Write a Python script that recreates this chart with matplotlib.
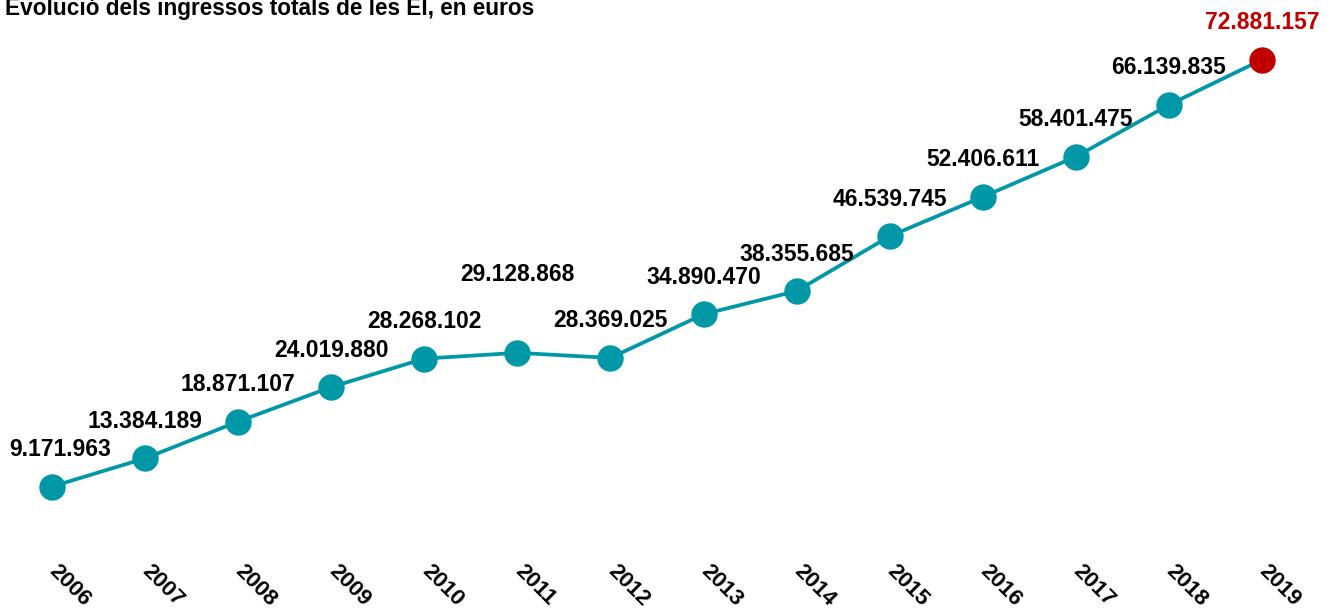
import numpy as np
import matplotlib.pyplot as plt
import matplotlib.transforms as mtransforms

plt.rcParams['font.family'] = ['Liberation Sans', 'DejaVu Sans']

anys = [2006, 2007, 2008, 2009, 2010, 2011, 2012, 2013, 2014, 2015, 2016, 2017, 2018, 2019]
ingressos = [9171963, 13384189, 18871107, 24019880, 28268102, 29128868, 28369025,
             34890470, 38355685, 46539745, 52406611, 58401475, 66139835, 72881157]

titol = "Evolució dels ingressos totals de les EI, en euros"
teal = '#0097A7'
vermell = '#C00000'

def fmt(v):
    return '{:,}'.format(v).replace(',', '.')

fig = plt.figure(figsize=(13.3, 6.12), dpi=100)
ax = fig.add_axes([52 / 1330, 1 - 548 / 612, 1210 / 1330, 536 / 612])

x = np.array(anys)
y = np.array(ingressos)
ax.plot(x, y, color=teal, lw=2.7, zorder=2, clip_on=False)
ax.plot(x[:-1], y[:-1], 'o', color=teal, ms=18, zorder=3, clip_on=False)
ax.plot(x[-1:], y[-1:], 'o', color=vermell, ms=18, zorder=3, clip_on=False)

for i, (a, v) in enumerate(zip(anys, ingressos)):
    off = 37
    if a == 2011:
        off = 78
    dx = 6 if i == 0 else 0
    col = vermell if i == len(anys) - 1 else 'black'
    ax.annotate(fmt(v), (a, v), xytext=(dx, off * 0.72), textcoords='offset points',
                ha='center', va='center', fontsize=16.5, fontweight='bold', color=col,
                annotation_clip=False)

ax.set_xlim(2006, 2019)
ax.set_ylim(0, 80000000)
ax.set_xticks(anys)
ax.set_xticklabels([str(a) for a in anys], rotation=-45, ha='left', va='top',
                   fontsize=16, fontweight='bold')
ax.tick_params(axis='x', length=0, pad=9)
ax.set_yticks([])
for s in ax.spines.values():
    s.set_visible(False)

# desplaçar una mica les etiquetes de l'eix cap a l'esquerra
shift = mtransforms.ScaledTranslation(-7 / 100, 0, fig.dpi_scale_trans)
for lbl in ax.get_xticklabels():
    lbl.set_transform(lbl.get_transform() + shift)

fig.text(0.004, 1 - 8 / 612, titol, fontsize=16.3, fontweight='bold', ha='left', va='center')

fig.savefig('out.png', dpi=100)
